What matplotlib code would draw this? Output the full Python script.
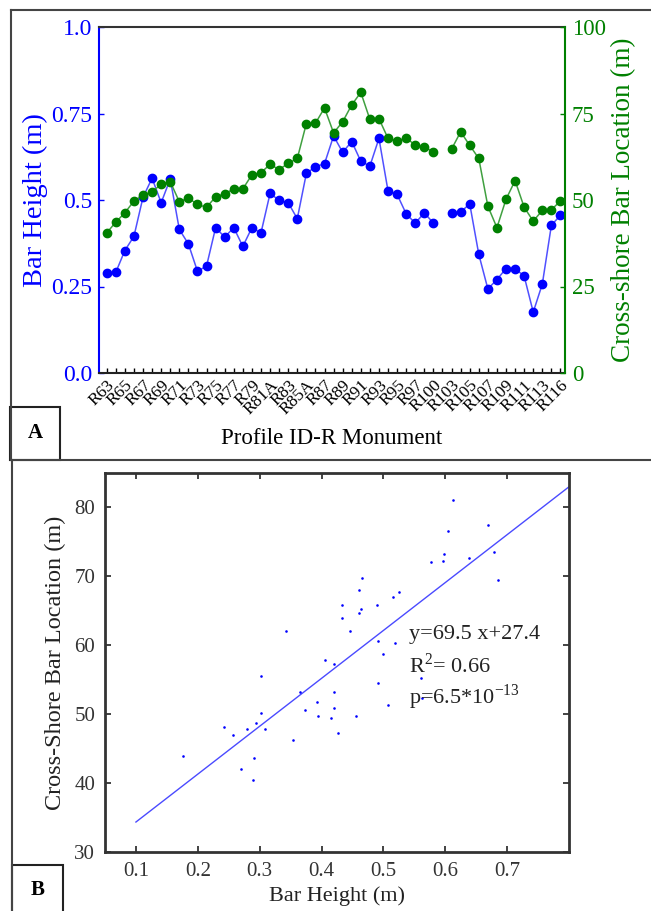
import numpy as np
import matplotlib
matplotlib.use("Agg")
import matplotlib.pyplot as plt
from matplotlib.lines import Line2D
from matplotlib.patches import Rectangle

plt.rcParams['font.family'] = ['Liberation Serif', 'DejaVu Serif']
plt.rcParams['mathtext.fontset'] = 'custom'
plt.rcParams['mathtext.rm'] = 'Liberation Serif'

nan = np.nan
# ---------------- data ----------------
tick_labels = ["R63", "R65", "R67", "R69", "R71", "R73", "R75", "R77", "R79", "R81A",
               "R83", "R85A", "R87", "R89", "R91", "R93", "R95", "R97", "R100", "R103",
               "R105", "R107", "R109", "R111", "R113", "R116"]

bar_height = [0.289, 0.291, 0.354, 0.395, 0.508, 0.563, 0.492, 0.561, 0.415, 0.373,
              0.294, 0.309, 0.420, 0.393, 0.420, 0.366, 0.420, 0.405, 0.519, 0.499,
              0.492, 0.446, 0.577, 0.596, 0.605, 0.685, 0.638, 0.669, 0.612, 0.598,
              0.678, 0.526, 0.516, 0.460, 0.433, 0.463, 0.433, nan, 0.461, 0.465,
              0.489, 0.343, 0.243, 0.270, 0.302, 0.302, 0.280, 0.176, 0.257, 0.427,
              0.456]

bar_location = [40.5, 43.6, 46.3, 49.7, 51.4, 52.4, 54.5, 55.3, 49.5, 50.6,
                48.7, 47.9, 50.9, 51.8, 53.2, 53.2, 57.3, 57.9, 60.3, 58.8,
                60.6, 62.0, 72.1, 72.2, 76.6, 69.4, 72.6, 77.5, 81.1, 73.3,
                73.5, 67.8, 67.0, 68.0, 65.8, 65.3, 63.9, nan, 64.7, 69.7,
                65.8, 62.0, 48.2, 42.0, 50.2, 55.6, 47.9, 43.9, 47.0, 47.2,
                49.7]

fit_slope = 69.5
fit_intercept = 27.4
fit_x = [0.1, 0.8]
r_squared = 0.66

W, H = 651, 911
fig = plt.figure(figsize=(W / 100, H / 100), dpi=100)

def ax_rect(l, t, r, b):
    return [l / W, 1 - b / H, (r - l) / W, (b - t) / H]

BLUE = '#0000ff'
GREEN = '#008000'
FS = 16

# ---------------- Panel A ----------------
ax1 = fig.add_axes(ax_rect(99, 27, 565, 373))
x = np.arange(1, len(bar_height) + 1)
ax1.plot(x, bar_height, '-', color='#5050ff', lw=1.1, zorder=2)
ax1.plot(x, bar_height, 'o', color=BLUE, ms=6, zorder=3)
ax1.set_ylim(0, 1.0)
ax1.set_xlim(0.15, len(bar_height) + 0.5)
ax1.set_yticks([0, 0.25, 0.5, 0.75, 1.0])
ax1.set_yticklabels(["0.0", "0.25", "0.5", "0.75", "1.0"])
ax1.set_xticks(x)
lab = []
for i in range(len(x)):
    lab.append(tick_labels[i // 2] if i % 2 == 0 else "")
ax1.set_xticklabels(lab, rotation=45, ha='right', va='top', rotation_mode='anchor', fontsize=12.5)
ax1.tick_params(axis='x', direction='in', length=3.5, width=1, pad=3)
ax1.tick_params(axis='y', direction='in', length=3.5, width=1, colors=BLUE, labelsize=17, pad=5)
ax1.set_ylabel("Bar Height (m)", color=BLUE, fontsize=20.5, labelpad=2)
ax1.set_xlabel("Profile ID-R Monument", fontsize=16.5, labelpad=7)
ax1.spines['left'].set_color(BLUE)
ax1.spines['left'].set_linewidth(1.5)
ax1.spines['top'].set_color('#333333')
ax1.spines['top'].set_linewidth(1.5)
ax1.spines['bottom'].set_color('#222222')
ax1.spines['bottom'].set_linewidth(1.5)
ax1.spines['right'].set_visible(False)

ax2 = ax1.twinx()
ax2.plot(x, bar_location, '-', color='#40a040', lw=1.1, zorder=2)
ax2.plot(x, bar_location, 'o', color=GREEN, ms=6, zorder=3)
ax2.set_ylim(0, 100)
ax2.set_yticks([0, 25, 50, 75, 100])
ax2.tick_params(axis='y', direction='in', length=3.5, width=1, colors=GREEN, labelsize=16.5, pad=5)
ax2.set_ylabel("Cross-shore Bar Location (m)", color=GREEN, fontsize=19.5, labelpad=4)
for s in ['left', 'top', 'bottom']:
    ax2.spines[s].set_visible(False)
ax2.spines['right'].set_color(GREEN)
ax2.spines['right'].set_linewidth(1.5)

# ---------------- Panel B ----------------
ax3 = fig.add_axes(ax_rect(105, 473, 569, 852))
ax3.scatter(bar_height, bar_location, s=3.5, color=BLUE, linewidths=0, zorder=3)
fx = np.array(fit_x)
ax3.plot(fx, fit_slope * fx + fit_intercept, '-', color='#4a4aff', lw=1)
ax3.set_xlim(0.05, 0.8)
ax3.set_ylim(30, 85)
ax3.set_xticks([0.1, 0.2, 0.3, 0.4, 0.5, 0.6, 0.7])
ax3.set_yticks([30, 40, 50, 60, 70, 80])
ax3.tick_params(direction='in', length=4, width=1.2, top=True, right=True,
                labelsize=FS - 1, colors='#222222', labelcolor='#333333', pad=7)
for s in ax3.spines.values():
    s.set_linewidth(2)
    s.set_color('#333333')
ax3.set_xlabel("Bar Height (m)", fontsize=FS, color='#222222', labelpad=4)
ax3.set_ylabel("Cross-Shore Bar Location (m)", fontsize=17.5, color='#222222', labelpad=6)
ax3.text(0.541, 61.6, "y=%.1f x+%.1f" % (fit_slope, fit_intercept), fontsize=FS, va='center', ha='left', color='#222222')
ax3.text(0.541, 57.0, r"R$^{2}$= %.2f" % r_squared, fontsize=FS, va='center', ha='left', color='#222222')
ax3.text(0.541, 52.5, r"p=6.5*10$^{-13}$", fontsize=FS, va='center', ha='left', color='#222222')

# ---------------- frames ----------------
def fline(x0, y0, x1, y1, lw=1.5, color='#444444'):
    fig.add_artist(Line2D([x0 / W, x1 / W], [1 - y0 / H, 1 - y1 / H], lw=lw, color=color,
                          transform=fig.transFigure))

fline(11, 10, 651, 10)
fline(11, 10, 11, 460)
fline(11, 460, 651, 460)
fline(12, 460, 12, 911)

def fbox(l, t, r, b, text):
    fig.add_artist(Rectangle((l / W, 1 - b / H), (r - l) / W, (b - t) / H, transform=fig.transFigure,
                             fill=True, facecolor='white', edgecolor='#222222', lw=1.5))
    fig.text((l + r) / 2 / W, 1 - (t + b) / 2 / H, text, fontsize=15, fontweight='bold',
             ha='center', va='center')

fbox(10, 407, 60, 460, "A")
fbox(12, 865, 63, 915, "B")

fig.savefig("out.png", dpi=100)
